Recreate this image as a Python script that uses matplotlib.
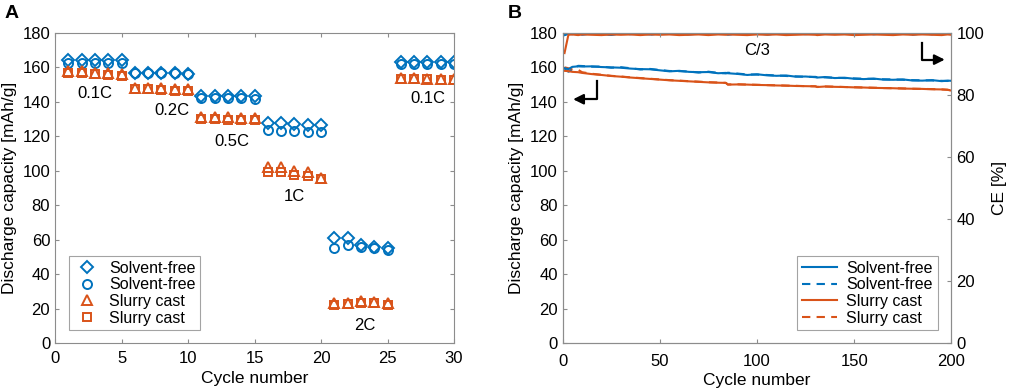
import matplotlib.pyplot as plt

plt.rcParams['font.family'] = ['Liberation Sans', 'DejaVu Sans']

blue = '#0072BD'
orange = '#D95319'

# Panel A: rate test, two cells per material
cycles_a = list(range(1, 31))
sf_diamond = [164.5, 164.5, 164.5, 164.5, 164.5,
              157.0, 157.0, 157.0, 157.0, 156.0,
              143.5, 143.5, 143.5, 143.5, 143.5,
              128.0, 127.5, 127.0, 126.5, 126.5,
              61.0, 61.0, 57.0, 56.0, 55.0,
              163.0, 163.0, 163.0, 163.0, 163.0]
sf_circle = [162.5, 162.5, 162.5, 162.5, 162.5,
             156.5, 156.5, 156.5, 156.5, 156.0,
             142.5, 142.5, 142.5, 142.5, 141.5,
             123.5, 123.0, 123.0, 122.5, 122.5,
             55.0, 57.0, 56.0, 55.0, 54.0,
             162.0, 162.0, 162.0, 162.0, 162.0]
sc_triangle = [158.0, 158.0, 157.0, 156.5, 156.0,
               148.0, 148.0, 148.0, 147.5, 147.5,
               131.0, 131.0, 131.0, 130.5, 130.5,
               102.0, 102.0, 100.0, 99.0, 96.0,
               23.0, 23.0, 24.5, 24.0, 23.0,
               154.0, 154.0, 153.5, 153.0, 153.5]
sc_square = [157.0, 157.0, 156.0, 155.5, 155.0,
             147.5, 147.5, 147.0, 146.5, 146.0,
             130.0, 130.0, 129.5, 129.5, 129.5,
             99.5, 99.0, 97.5, 97.0, 95.0,
             22.0, 22.5, 23.0, 23.0, 22.0,
             153.0, 153.0, 153.0, 152.5, 152.5]
rate_labels = ['0.1C', '0.2C', '0.5C', '1C', '2C', '0.1C']
rate_label_x = [3.0, 8.8, 13.3, 18.0, 23.3, 28.0]
rate_label_y = [145, 135, 117, 85, 10, 142]

# Panel B: long cycling at C/3
cycles_b = [1, 3, 5, 8, 10, 15, 20, 25, 30, 35, 40, 45, 50, 55, 60, 65, 70,
            75, 80, 84, 85, 90, 95, 100, 105, 110, 115, 120, 125, 130, 131,
            135, 140, 145, 150, 155, 160, 165, 170, 175, 180, 185, 190, 195,
            198, 200]
sf_cap1 = [159.5, 159.0, 160.3, 160.6, 160.5, 160.6, 160.2, 160.0, 159.8,
           159.3, 159.0, 158.9, 158.3, 157.7, 158.0, 157.4, 157.2, 157.3,
           156.6, 156.8, 156.6, 156.2, 155.6, 156.0, 155.4, 155.1, 155.3,
           154.6, 154.7, 154.3, 154.1, 154.4, 153.8, 154.0, 153.4, 153.2,
           153.5, 152.9, 152.8, 153.0, 152.4, 152.3, 152.6, 152.0, 152.3,
           152.2]
sf_cap2 = [159.0, 157.5, 158.5, 160.9, 160.8, 160.4, 160.5, 159.8, 160.1,
           159.5, 158.8, 159.1, 158.5, 157.9, 157.8, 157.6, 157.0, 157.5,
           156.8, 156.5, 156.9, 156.4, 155.9, 155.8, 155.6, 155.3, 155.0,
           154.8, 154.5, 154.5, 154.3, 154.2, 154.0, 153.8, 153.6, 153.4,
           153.3, 153.1, 153.0, 152.8, 152.6, 152.5, 152.4, 152.2, 152.1,
           152.4]
sc_cap1 = [158.0, 157.8, 157.4, 157.2, 156.8, 156.1, 155.6, 155.0, 154.6,
           154.1, 153.7, 153.3, 152.9, 152.5, 152.2, 151.9, 151.6, 151.3,
           151.1, 151.0, 150.0, 150.1, 150.0, 149.8, 149.7, 149.5, 149.4,
           149.2, 149.1, 149.0, 148.6, 148.9, 148.7, 148.6, 148.4, 148.3,
           148.1, 148.0, 147.9, 147.7, 147.6, 147.5, 147.3, 147.2, 147.0,
           146.5]
sc_cap2 = [160.0, 159.5, 158.8, 158.6, 157.2, 156.3, 155.7, 155.1, 154.7,
           154.2, 153.8, 153.4, 153.0, 152.6, 152.3, 152.0, 151.7, 151.4,
           151.2, 151.0, 150.1, 150.2, 150.0, 149.9, 149.7, 149.6, 149.4,
           149.3, 149.1, 149.0, 148.7, 148.9, 148.8, 148.6, 148.5, 148.3,
           148.2, 148.0, 147.9, 147.8, 147.6, 147.5, 147.4, 147.2, 147.0,
           146.6]
sf_ce = [99.3, 99.8, 99.6, 99.9, 99.5, 99.8, 99.7, 99.4, 99.9, 99.6, 99.8,
         99.5, 99.8, 99.7, 99.9, 99.5, 99.8, 99.6, 99.9, 99.7, 99.5, 99.8,
         99.6, 99.9, 99.5, 99.8, 99.7, 99.9, 99.6, 99.8, 99.5, 99.9, 99.7,
         99.8, 99.5, 99.9, 99.6, 99.8, 99.7, 99.9, 99.5, 99.8, 99.6, 99.9,
         99.7, 99.8]
sc_ce = [93.5, 99.4, 99.5, 99.3, 99.5, 99.4, 99.3, 99.5, 99.4, 99.5, 99.3,
         99.5, 99.4, 99.5, 99.3, 99.4, 99.5, 99.3, 99.5, 99.4, 99.5, 99.4,
         99.3, 99.5, 99.4, 99.5, 99.3, 99.4, 99.5, 99.4, 99.3, 99.5, 99.4,
         99.5, 99.3, 99.4, 99.5, 99.4, 99.3, 99.5, 99.4, 99.5, 99.4, 99.3,
         99.5, 99.4]

frame_color = '#8c8c8c'
fs = 12

fig = plt.figure(figsize=(10.1, 3.92), dpi=100)
ax1 = fig.add_axes([0.0545, 0.125, 0.395, 0.791])
ax2 = fig.add_axes([0.557, 0.125, 0.385, 0.791])
ax2r = ax2.twinx()

# ---- Panel A ----
ax1.plot(cycles_a, sf_diamond, 'D', ms=6, mfc='none', mec=blue, mew=1.4, label='Solvent-free')
ax1.plot(cycles_a, sf_circle, 'o', ms=6.5, mfc='none', mec=blue, mew=1.4, label='Solvent-free')
ax1.plot(cycles_a, sc_triangle, '^', ms=7, mfc='none', mec=orange, mew=1.4, label='Slurry cast')
ax1.plot(cycles_a, sc_square, 's', ms=5.5, mfc='none', mec=orange, mew=1.4, label='Slurry cast')
for lab, x, y in zip(rate_labels, rate_label_x, rate_label_y):
    ax1.text(x, y, lab, ha='center', va='center', fontsize=fs)
ax1.set_xlim(0, 30)
ax1.set_ylim(0, 180)
ax1.set_xticks(range(0, 31, 5))
ax1.set_yticks(range(0, 181, 20))
ax1.set_xlabel('Cycle number', fontsize=fs + 0.5, labelpad=3)
ax1.set_ylabel('Discharge capacity [mAh/g]', fontsize=fs + 0.5, labelpad=4)
ax1.tick_params(direction='in', top=True, right=True, labelsize=fs, color=frame_color, length=3)
ax1.tick_params(axis='x', pad=6)
leg1 = ax1.legend(loc='lower left', bbox_to_anchor=(0.015, 0.015), fontsize=fs - 0.5,
                  frameon=True, fancybox=False, edgecolor=frame_color,
                  handletextpad=0.6, borderpad=0.3, labelspacing=0.1, handlelength=1.6)
leg1.get_frame().set_linewidth(0.8)

# ---- Panel B ----
ax2r.plot(cycles_b, sf_ce, color=blue, lw=1.5)
ax2r.plot(cycles_b, sf_ce, color=blue, lw=1.5, ls=(0, (4, 3)))
ax2r.plot(cycles_b, sc_ce, color=orange, lw=1.5)
ax2.plot(cycles_b, sc_cap2, color=orange, lw=1.5, ls=(0, (4, 3)))
ax2.plot(cycles_b, sf_cap2, color=blue, lw=1.5, ls=(0, (4, 3)))
l_sf1, = ax2.plot(cycles_b, sf_cap1, color=blue, lw=1.5)
l_sc1, = ax2.plot(cycles_b, sc_cap1, color=orange, lw=1.5)
l_sf2, = ax2.plot([], [], color=blue, lw=1.5, ls=(0, (4, 3)))
l_sc2, = ax2.plot([], [], color=orange, lw=1.5, ls=(0, (4, 3)))

ax2.set_zorder(ax2r.get_zorder() + 1)
ax2.patch.set_visible(False)

ax2.text(100, 170, 'C/3', ha='center', va='center', fontsize=fs)
# arrows pointing to the axes
ax2.plot([17.5, 17.5, 10], [152, 141.5, 141.5], color='black', lw=1.6)
ax2.annotate('', xy=(4, 141.5), xytext=(11, 141.5),
             arrowprops=dict(arrowstyle='-|>,head_length=0.6,head_width=0.3', color='black', lw=1.6))
ax2.plot([185, 185, 191], [174, 164.5, 164.5], color='black', lw=1.6)
ax2.annotate('', xy=(198, 164.5), xytext=(190, 164.5),
             arrowprops=dict(arrowstyle='-|>,head_length=0.6,head_width=0.3', color='black', lw=1.6))

ax2.set_xlim(0, 200)
ax2.set_ylim(0, 180)
ax2.set_xticks(range(0, 201, 50))
ax2.set_yticks(range(0, 181, 20))
ax2r.set_ylim(0, 100)
ax2r.set_yticks(range(0, 101, 20))
ax2.set_xlabel('Cycle number', fontsize=fs + 0.5, labelpad=3)
ax2.set_ylabel('Discharge capacity [mAh/g]', fontsize=fs + 0.5, labelpad=4)
ax2r.set_ylabel('CE [%]', fontsize=fs + 0.5, labelpad=6)
ax2.tick_params(direction='in', top=True, labelsize=fs, color=frame_color, length=3)
ax2.tick_params(axis='x', pad=8)
ax2r.tick_params(direction='in', labelsize=fs, color=frame_color, length=3)
leg2 = ax2.legend([l_sf1, l_sf2, l_sc1, l_sc2],
                  ['Solvent-free', 'Solvent-free', 'Slurry cast', 'Slurry cast'],
                  loc='lower right', bbox_to_anchor=(0.985, 0.015), fontsize=fs - 0.5,
                  frameon=True, fancybox=False, edgecolor=frame_color,
                  handletextpad=0.6, borderpad=0.3, labelspacing=0.1, handlelength=2.2)
leg2.get_frame().set_linewidth(0.8)

for ax in (ax1, ax2, ax2r):
    for sp in ax.spines.values():
        sp.set_color(frame_color)
        sp.set_linewidth(0.8)

fig.text(0.004, 0.965, 'A', fontsize=14, fontweight='bold', va='center')
fig.text(0.503, 0.965, 'B', fontsize=14, fontweight='bold', va='center')

fig.savefig('out.png', dpi=100)
